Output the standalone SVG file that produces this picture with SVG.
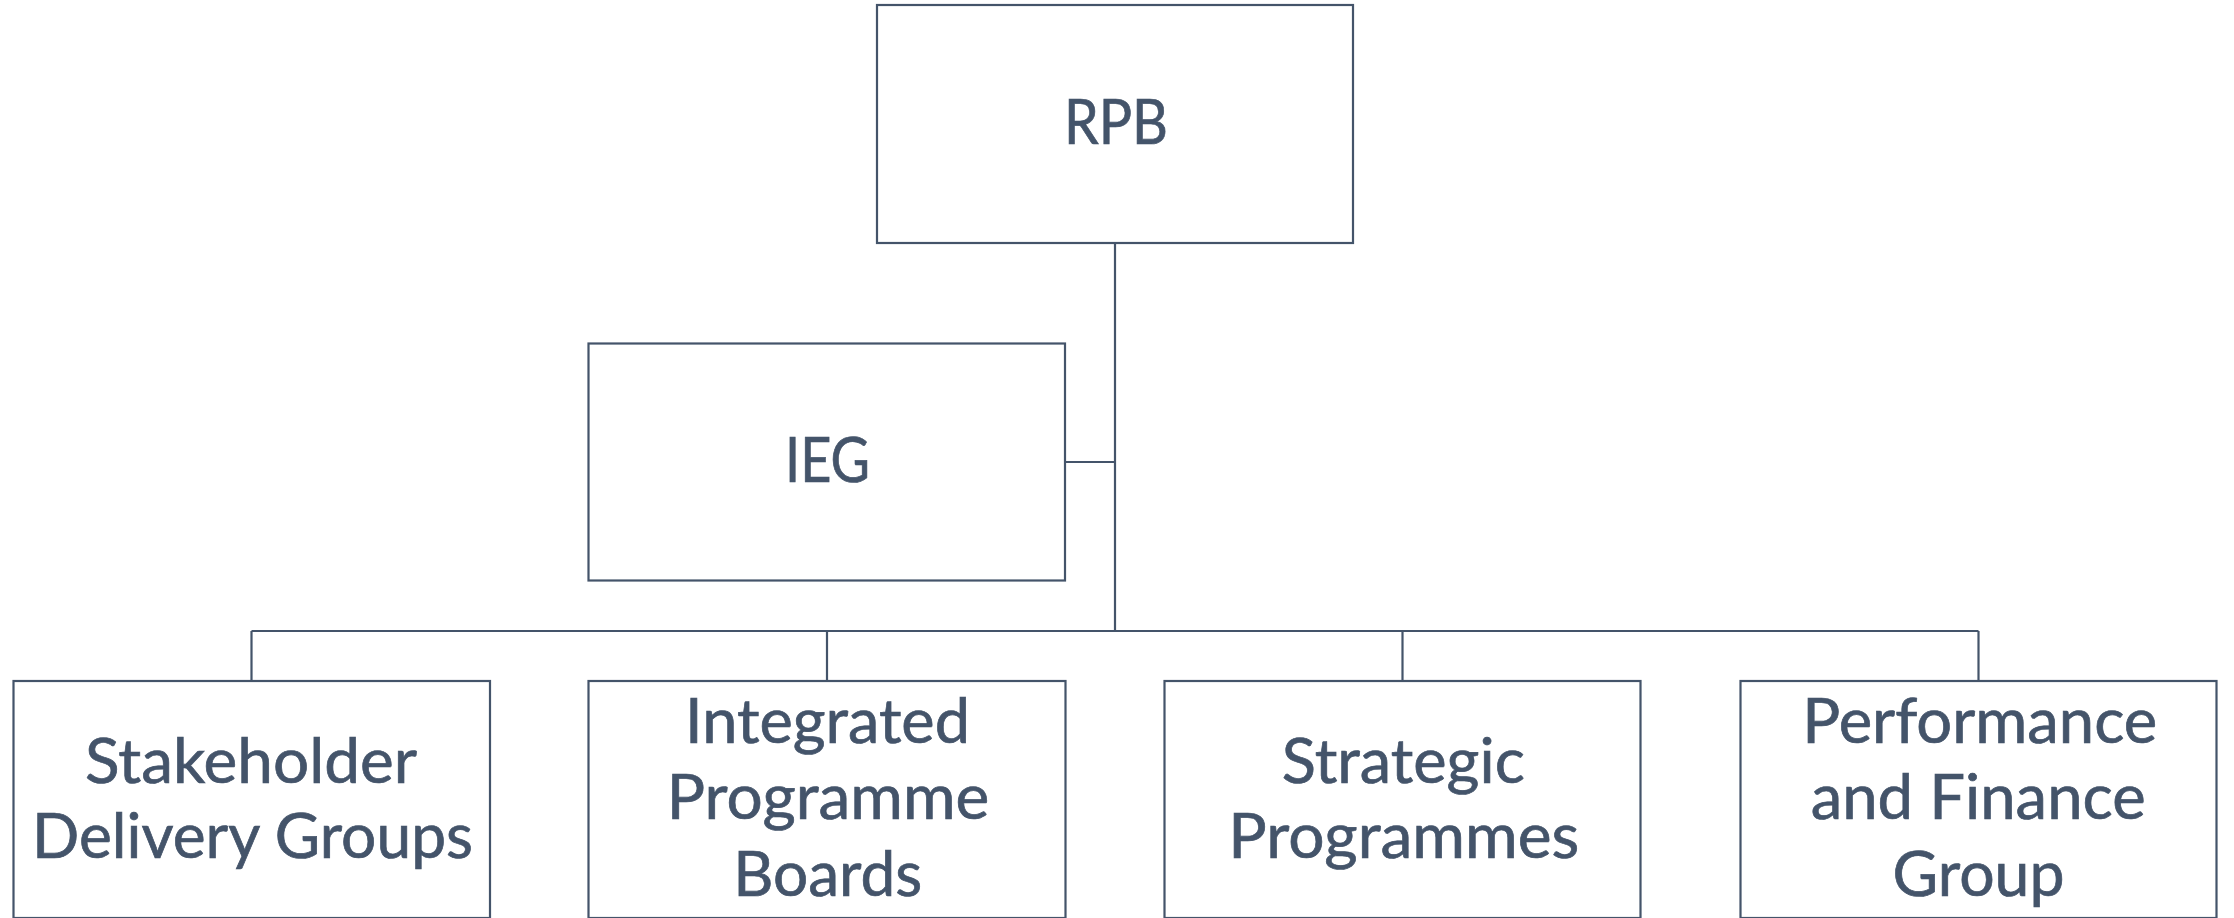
<svg xmlns="http://www.w3.org/2000/svg" width="2234" height="918" viewBox="0 0 2234 918">
<style>
.box{fill:#ffffff;stroke:#44546A;stroke-width:2.2}
.conn{fill:none;stroke:#44546A;stroke-width:2.2}
.lbl{font-family:Lato,"Open Sans","Liberation Sans",sans-serif;font-size:62px;fill:#44546A;stroke:#44546A;stroke-width:0.7;text-anchor:middle}
</style>
<rect width="2234" height="918" fill="#ffffff"/>
<g id="connectors">
<path class="conn" d="M1115,243 V631"/>
<path class="conn" d="M1065,462 H1115"/>
<path class="conn" d="M251.5,631 H1978.5"/>
<path class="conn" d="M251.5,631 V681"/>
<path class="conn" d="M827,631 V681"/>
<path class="conn" d="M1402.5,631 V681"/>
<path class="conn" d="M1978.5,631 V681"/>
</g>
<g id="rpb">
<rect class="box" x="877" y="5" width="476" height="238"/>
<text class="lbl" x="1116" y="144" textLength="104" lengthAdjust="spacingAndGlyphs">RPB</text>
</g>
<g id="ieg">
<rect class="box" x="588.5" y="343.5" width="476.5" height="237"/>
<text class="lbl" x="827.5" y="482" textLength="85" lengthAdjust="spacingAndGlyphs">IEG</text>
</g>
<g id="sdg">
<rect class="box" x="13.5" y="681" width="476.5" height="237"/>
<text class="lbl" x="251" y="782.7" textLength="332" lengthAdjust="spacingAndGlyphs">Stakeholder</text>
<text class="lbl" x="252.5" y="857.7" textLength="441" lengthAdjust="spacingAndGlyphs">Delivery Groups</text>
</g>
<g id="ipb">
<rect class="box" x="588.5" y="681" width="477" height="237"/>
<text class="lbl" x="827.5" y="743.3" textLength="285" lengthAdjust="spacingAndGlyphs">Integrated</text>
<text class="lbl" x="828" y="819.3" textLength="322.5" lengthAdjust="spacingAndGlyphs">Programme</text>
<text class="lbl" x="827.7" y="895.7" textLength="189" lengthAdjust="spacingAndGlyphs">Boards</text>
</g>
<g id="sp">
<rect class="box" x="1164.5" y="681" width="476" height="237"/>
<text class="lbl" x="1403.3" y="782.7" textLength="243" lengthAdjust="spacingAndGlyphs">Strategic</text>
<text class="lbl" x="1403.8" y="857.7" textLength="351" lengthAdjust="spacingAndGlyphs">Programmes</text>
</g>
<g id="pfg">
<rect class="box" x="1740.5" y="681" width="476" height="237"/>
<text class="lbl" x="1979.8" y="743.3" textLength="355" lengthAdjust="spacingAndGlyphs">Performance</text>
<text class="lbl" x="1978.2" y="819.3" textLength="335" lengthAdjust="spacingAndGlyphs">and Finance</text>
<text class="lbl" x="1978.5" y="895.7" textLength="172" lengthAdjust="spacingAndGlyphs">Group</text>
</g>
</svg>
